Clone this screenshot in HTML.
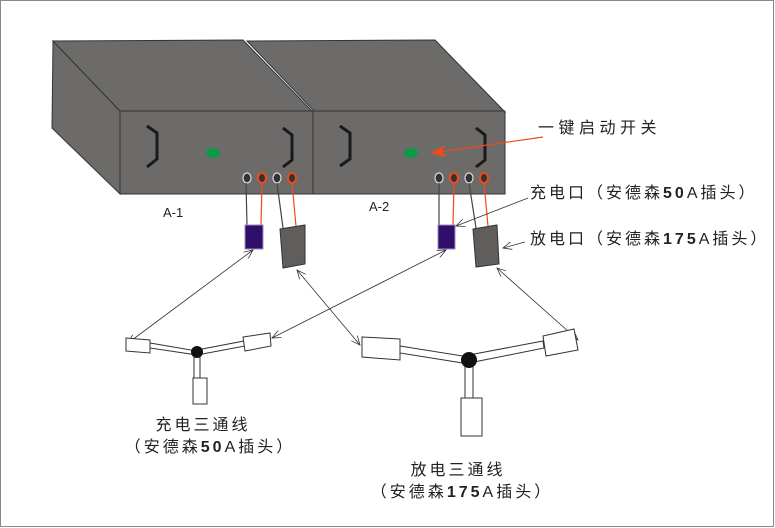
<!DOCTYPE html>
<html><head><meta charset="utf-8"><style>
body{margin:0;background:#fff;}
svg{display:block;}
text{font-family:"Liberation Sans","Noto Sans CJK SC",sans-serif;fill:#222;}
.cn{font-size:16px;letter-spacing:3px;}
</style></head><body>
<svg width="775" height="528" viewBox="0 0 775 528" xmlns="http://www.w3.org/2000/svg">
<defs>
<marker id="a" markerWidth="10" markerHeight="8" refX="9" refY="4" orient="auto-start-reverse" markerUnits="userSpaceOnUse"><path d="M0,0 L9,4 L0,8" fill="none" stroke="#333" stroke-width="0.8"/></marker>
<marker id="r" markerWidth="16" markerHeight="12" refX="14" refY="6" orient="auto" markerUnits="userSpaceOnUse"><path d="M0,0 L16,6 L0,12 L4,6Z" fill="#f04a1a"/></marker>
</defs>
<rect x="0.5" y="0.5" width="773" height="526" fill="none" stroke="#888"/>
<g stroke="#333" stroke-width="1" fill="#6c6b6a">
<polygon points="53,41 120,111 120,194 52,128"/>
<polygon points="53,41 243,40 312,111 120,111"/>
<polygon points="247,41 435,40 505,112 314,111"/>
<rect x="120" y="111" width="193" height="83"/>
<rect x="313" y="111" width="192" height="83"/>
</g>
<g fill="none" stroke="#1a1a1a" stroke-width="3">
<path d="M147,126 L157,133 L157,159 L147,167"/>
<path d="M283,128 L292,135 L292,160 L283,167"/>
<path d="M340,126 L350,133 L350,159 L340,166"/>
<path d="M476,128 L485,135 L485,160 L476,167"/>
</g>
<ellipse cx="213" cy="153" rx="7" ry="5" fill="#0a9a4a"/>
<ellipse cx="411" cy="153" rx="7" ry="5" fill="#0a9a4a"/>
<g>
<g fill="#333" stroke="#ddd" stroke-width="1.2"><ellipse cx="247" cy="178" rx="4" ry="5"/><ellipse cx="277" cy="178" rx="4" ry="5"/><ellipse cx="439" cy="178" rx="4" ry="5"/><ellipse cx="469" cy="178" rx="4" ry="5"/></g>
<g fill="#333" stroke="#f04a1a" stroke-width="2"><ellipse cx="262" cy="178" rx="4" ry="5"/><ellipse cx="292" cy="178" rx="4" ry="5"/><ellipse cx="454" cy="178" rx="4" ry="5"/><ellipse cx="484" cy="178" rx="4" ry="5"/></g>
</g>
<g stroke-width="1.2">
<line x1="246" y1="183" x2="247" y2="225" stroke="#444"/>
<line x1="262" y1="183" x2="261" y2="225" stroke="#f04a1a"/>
<line x1="277" y1="183" x2="283" y2="228" stroke="#444"/>
<line x1="292" y1="183" x2="296" y2="226" stroke="#f04a1a"/>
<line x1="439" y1="183" x2="439" y2="225" stroke="#444"/>
<line x1="454" y1="183" x2="453" y2="225" stroke="#f04a1a"/>
<line x1="469" y1="183" x2="476" y2="228" stroke="#444"/>
<line x1="484" y1="183" x2="488" y2="226" stroke="#f04a1a"/>
</g>
<rect x="245" y="225" width="18" height="24" fill="#2e0f6a" stroke="#9a8ac0"/>
<rect x="438" y="225" width="17" height="24" fill="#2e0f6a" stroke="#9a8ac0"/>
<polygon points="280,229 305,225 305,264 283,268" fill="#5f5e5d" stroke="#333"/>
<polygon points="473,229 497,225 499,264 476,267" fill="#5f5e5d" stroke="#333"/>
<text x="163" y="217" font-size="13">A-1</text>
<text x="369" y="211" font-size="13">A-2</text>
<line x1="543" y1="137" x2="432" y2="153" stroke="#f04a1a" stroke-width="1.2" marker-end="url(#r)"/>
<text x="538" y="133" class="cn" style="letter-spacing:4.5px">一键启动开关</text>
<text x="530" y="198" class="cn">充电口（安德森<tspan font-weight="bold">50</tspan>A插头）</text>
<text x="530" y="244" class="cn">放电口（安德森<tspan font-weight="bold">175</tspan>A插头）</text>
<g stroke="#333" stroke-width="0.8" fill="none">
<line x1="528" y1="198" x2="456" y2="226" marker-end="url(#a)"/>
<line x1="525" y1="242" x2="503" y2="248" marker-end="url(#a)"/>
<line x1="253" y1="250" x2="128" y2="343" marker-start="url(#a)" marker-end="url(#a)"/>
<line x1="297" y1="270" x2="360" y2="345" marker-start="url(#a)" marker-end="url(#a)"/>
<line x1="446" y1="250" x2="272" y2="338" marker-start="url(#a)" marker-end="url(#a)"/>
<line x1="497" y1="268" x2="578" y2="340" marker-start="url(#a)" marker-end="url(#a)"/>
</g>
<g stroke="#333" stroke-width="1" fill="#fff">
<polygon points="150,343 197,351 197,355 150,348"/>
<polygon points="197,350 244,341 245,346 197,355"/>
<rect x="194" y="352" width="6" height="27"/>
<polygon points="126,338 150,340 150,353 126,351"/>
<polygon points="243,337 270,333 271,346 245,351"/>
<rect x="193" y="378" width="14" height="26"/>
<polygon points="400,346 469,357 469,364 400,353"/>
<polygon points="469,355 543,341 544,348 469,363"/>
<rect x="465" y="362" width="8" height="38"/>
<polygon points="362,337 400,339 400,360 362,357"/>
<polygon points="543,336 574,329 578,350 546,356"/>
<rect x="461" y="398" width="21" height="38"/>
</g>
<circle cx="197" cy="352" r="6" fill="#111"/>
<circle cx="469" cy="360" r="8" fill="#111"/>
<text x="203" y="430" class="cn" text-anchor="middle">充电三通线</text>
<text x="210" y="452" class="cn" text-anchor="middle">（安德森<tspan font-weight="bold">50</tspan>A插头）</text>
<text x="458" y="475" class="cn" text-anchor="middle">放电三通线</text>
<text x="462" y="497" class="cn" text-anchor="middle">（安德森<tspan font-weight="bold">175</tspan>A插头）</text>
</svg>
</body></html>
